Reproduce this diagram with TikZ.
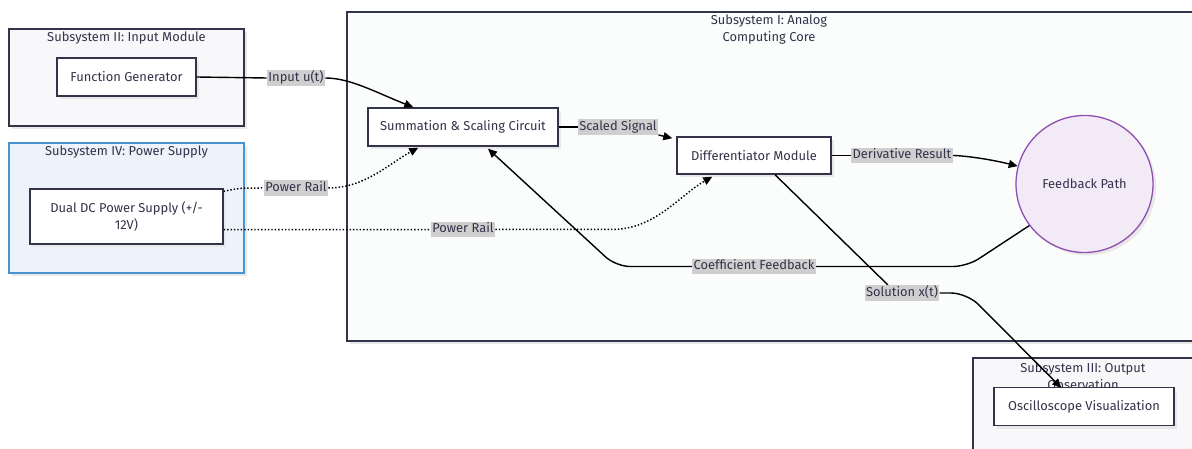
\documentclass[tikz,border=0pt]{standalone}
\usepackage{fontspec}
\setmainfont{Fira Sans}
\usetikzlibrary{arrows.meta,calc,shadows}
\definecolor{ink}{HTML}{33334A}
\definecolor{clfill}{HTML}{F8F8FA}
\definecolor{corefill}{HTML}{FBFDFD}
\definecolor{pwfill}{HTML}{ECF3FB}
\definecolor{pwdraw}{HTML}{4A92D0}
\definecolor{fbfill}{HTML}{F3EAF8}
\definecolor{fbdraw}{HTML}{8E50AE}
\definecolor{lblgray}{HTML}{CFCFCF}
\tikzset{
  shadowed/.style={drop shadow={shadow xshift=3pt,shadow yshift=-3pt,fill=black!9,opacity=1}},
  cluster/.style={draw=ink,line width=1.3pt,fill=clfill,shadowed},
  ctitle/.style={text=ink,align=center,inner sep=0pt},
  box/.style={draw=ink,line width=1.4pt,fill=white,inner sep=0pt,shadowed,text=ink,align=center},
  lbl/.style={fill=lblgray,inner sep=1.5pt,text height=9.5pt,text depth=3pt,text=ink},
  edge/.style={line width=1.4pt,draw=black},
  arr/.style={edge,-{Triangle[length=9pt,width=8pt]}},
  pwr/.style={edge,dotted,line width=1.5pt},
}
\begin{document}
\begin{tikzpicture}[x=1pt,y=-1pt,font=\fontsize{12.9}{17}\selectfont]
\useasboundingbox (0,0) rectangle (1192,449);
\clip (0,0) rectangle (1192,449);
\fill[white] (0,0) rectangle (1192,449);

% clusters
\filldraw[cluster] (9,29) rectangle (244,126);
\node[ctitle] (t2) at (126.5,38) {Subsystem II: Input Module};
\filldraw[cluster,fill=pwfill,draw=pwdraw] (9,143) rectangle (244,273);
\node[ctitle] (t4) at (126.5,152) {Subsystem IV: Power Supply};
\filldraw[cluster,fill=corefill] (347,12) rectangle (1210,341);
\node[ctitle] (t1) at (769,29.5) {Subsystem I: Analog\\Computing Core};
\filldraw[cluster] (973,358) rectangle (1210,470);
\node[ctitle] (t3) at (1083,376) {Subsystem III: Output\\Observation};

% nodes
\node[box,minimum width=139pt,minimum height=38pt] (fg) at (126.5,77) {Function Generator};
\node[box,minimum width=193pt,minimum height=55pt] (dc) at (126.5,216.5) {Dual DC Power Supply (+/-\\12V)};
\node[box,minimum width=190pt,minimum height=38pt] (sum) at (463,127) {Summation \& Scaling Circuit};
\node[box,minimum width=154pt,minimum height=37pt] (diff) at (754,155.5) {Differentiator Module};
\node[box,circle,draw=fbdraw,fill=fbfill,minimum size=137pt,line width=1.3pt] (fb) at (1084.5,184) {Feedback Path};
\node[box,minimum width=180pt,minimum height=38pt] (osc) at (1084,406.5) {Oscilloscope Visualization};

% label nodes
\node[lbl] (l1) at (296,78) {Input u(t)};
\node[lbl] (l2) at (618,127) {Scaled Signal};
\node[lbl] (l3) at (902,155.5) {Derivative Result};
\node[lbl] (l4) at (754,266.5) {Coefficient Feedback};
\node[lbl] (l5) at (902,293) {Solution x(t)};
\node[lbl] (l6) at (296,188) {Power Rail};
\node[lbl] (l7) at (463,229.5) {Power Rail};

% connectors
\draw[edge] (fg.east) -- (l1.west);
\draw[arr] (l1.east) .. controls (350,78) and (375,92) .. ($(sum.north west)+(46,0)$);
\draw[edge] (sum.east) -- (l2.west);
\draw[arr] (l2.south east) -- ($(diff.north west)+(-4,2)$);
\draw[edge] (diff.east) -- (l3.west);
\draw[arr] (l3.east) .. controls (960,155.5) and (985,158) .. (fb.165);
\draw[edge,rounded corners=14pt] (fb.217) -- (967,266.5) -- (l4.east);
\draw[arr,rounded corners=14pt] (l4.west) -- (616,266.5) -- ($(sum.south)+(25,2)$);
\draw[edge] ($(diff.south)+(21,0)$) -- ($(l5.north)+(-14,0)$);
\draw[arr,rounded corners=16pt] (l5.east) -- (967,293) -- ($(osc.north west)+(68,1)$);
\draw[pwr] ($(dc.north east)+(0,3)$) .. controls (240,188) .. (l6.west);
\draw[pwr,-{Triangle[length=9pt,width=8pt]}] (l6.east) .. controls (365,188) and (390,163) .. ($(sum.south west)+(51,1)$);
\draw[pwr] ($(dc.south east)+(0,-15)$) -- (l7.west);
\draw[pwr,-{Triangle[length=9pt,width=8pt]}] (l7.east) -- (612,229.5) .. controls (655,229.5) and (680,195) .. ($(diff.south west)+(36,2)$);

% redraw labels on top
\node[lbl] at (l1) {Input u(t)};
\node[lbl] at (l2) {Scaled Signal};
\node[lbl] at (l3) {Derivative Result};
\node[lbl] at (l4) {Coefficient Feedback};
\node[lbl] at (l5) {Solution x(t)};
\node[lbl] at (l6) {Power Rail};
\node[lbl] at (l7) {Power Rail};
\end{tikzpicture}
\end{document}
